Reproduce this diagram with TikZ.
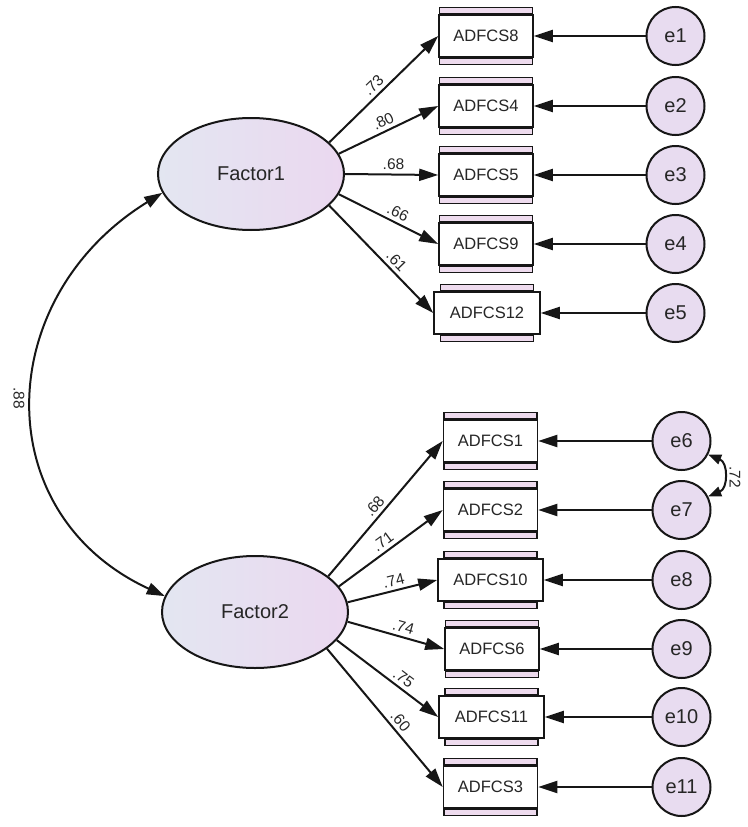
\documentclass[tikz,border=0pt]{standalone}
\usepackage{fontspec}
\setmainfont{Liberation Sans}
\usetikzlibrary{arrows.meta,shapes.geometric}
\definecolor{lineC}{HTML}{161616}
\definecolor{txtC}{HTML}{262626}
\definecolor{latL}{HTML}{E3E6F1}
\definecolor{latR}{HTML}{EBD8F0}
\definecolor{errC}{HTML}{E8DCF0}
\definecolor{stripC}{HTML}{EEDBEE}
\tikzset{
  lat/.style={ellipse, draw=lineC, line width=2pt, minimum width=186pt, minimum height=112pt,
    left color=latL, right color=latR, text=txtC, font=\fontsize{20}{22}\selectfont},
  err/.style={circle, draw=lineC, line width=2pt, minimum size=58pt, inner sep=0pt,
    fill=errC, text=txtC, font=\fontsize{20}{22}\selectfont},
  obs/.style={rectangle, draw=lineC, line width=1.6pt, fill=white, minimum height=42pt,
    inner sep=0pt, text=txtC, font=\fontsize{16.5}{18}\selectfont},
  strip/.style={draw=lineC, line width=1.5pt, fill=stripC},
  load/.style={draw=lineC, line width=2pt, -{Triangle[length=19pt,width=12pt]}},
  cov/.style={draw=lineC, line width=2pt, {Triangle[length=18pt,width=12pt]}-{Triangle[length=18pt,width=12pt]}},
  covs/.style={draw=lineC, line width=2pt, {Triangle[length=13pt,width=10pt]}-{Triangle[length=13pt,width=10pt]}},
  lab/.style={sloped, above, inner sep=3.5pt, text=txtC, font=\fontsize{15.5}{16}\selectfont},
  vlab/.style={rotate=-90, inner sep=0pt, text=txtC, font=\fontsize{15.5}{16}\selectfont}
}
\newcommand\obsnode[5][94]{%
  \node[obs, minimum width=#1pt] (#2) at (#3,#4) {#5};
  \draw[strip] ([xshift=-46.5pt]#2.north) rectangle ([xshift=46.5pt,yshift=6.5pt]#2.north);
  \draw[strip] ([xshift=-46.5pt,yshift=-6.5pt]#2.south) rectangle ([xshift=46.5pt]#2.south);
}
\begin{document}
\begin{tikzpicture}[x=1pt,y=-1pt]
\useasboundingbox (0,0) rectangle (747,827);

% latent factors
\node[lat] (F1) at (251,174) {Factor1};
\node[lat] (F2) at (255,612) {Factor2};

% observed variables
\obsnode{b8}{486}{36}{ADFCS8}
\obsnode{b4}{486}{106}{ADFCS4}
\obsnode{b5}{486}{175}{ADFCS5}
\obsnode{b9}{486}{244}{ADFCS9}
\obsnode[106]{b12}{487}{313}{ADFCS12}
\obsnode{b1}{490.5}{441}{ADFCS1}
\obsnode{b2}{490.5}{510}{ADFCS2}
\obsnode[105]{b10}{490.5}{580}{ADFCS10}
\obsnode{b6}{492}{649}{ADFCS6}
\obsnode[105]{b11}{491.5}{717}{ADFCS11}
\obsnode{b3}{490.5}{787}{ADFCS3}

% error terms
\node[err] (e1) at (675.5,36) {e1};
\node[err] (e2) at (675.5,106) {e2};
\node[err] (e3) at (675.5,175) {e3};
\node[err] (e4) at (675.5,244) {e4};
\node[err] (e5) at (675.5,313) {e5};
\node[err] (e6) at (681.5,441) {e6};
\node[err] (e7) at (681.5,510) {e7};
\node[err] (e8) at (681.5,580) {e8};
\node[err] (e9) at (681.5,649) {e9};
\node[err] (e10) at (681.5,717) {e10};
\node[err] (e11) at (681.5,787) {e11};

% loadings Factor1
\draw[load] (F1.22) -- node[lab,pos=.47] {.73} (b8.west);
\draw[load] (F1.13) -- node[lab,pos=.49] {.80} (b4.west);
\draw[load] (F1.0) -- node[lab,pos=.52] {.68} (b5.west);
\draw[load] (F1.-13) -- node[lab,pos=.55] {.66} (b9.west);
\draw[load] (F1.-22) -- node[lab,pos=.58] {.61} (b12.west);

% loadings Factor2
\draw[load] (F2.26) -- node[lab,pos=.47] {.68} (b1.west);
\draw[load] (F2.17) -- node[lab,pos=.48] {.71} (b2.west);
\draw[load] (F2.6) -- node[lab,pos=.54] {.74} (b10.west);
\draw[load] (F2.-6) -- node[lab,pos=.55] {.74} (b6.west);
\draw[load] (F2.-19) -- node[lab,pos=.60] {.75} (b11.west);
\draw[load] (F2.-27) -- node[lab,pos=.57] {.60} (b3.west);

% error paths
\draw[load] (e1) -- (b8);
\draw[load] (e2) -- (b4);
\draw[load] (e3) -- (b5);
\draw[load] (e4) -- (b9);
\draw[load] (e5) -- (b12);
\draw[load] (e6) -- (b1);
\draw[load] (e7) -- (b2);
\draw[load] (e8) -- (b10);
\draw[load] (e9) -- (b6);
\draw[load] (e10) -- (b11);
\draw[load] (e11) -- (b3);

% covariances
\draw[cov] (F1.192) .. controls (-8,298) and (-13,514) .. (F2.170);
\node[vlab] (r88) at (19,398) {.88};
\draw[covs] (e6.-27) .. controls +(20,8) and +(20,-8) .. (e7.27);
\node[vlab] (r72) at (735,477) {.72};
\end{tikzpicture}
\end{document}
